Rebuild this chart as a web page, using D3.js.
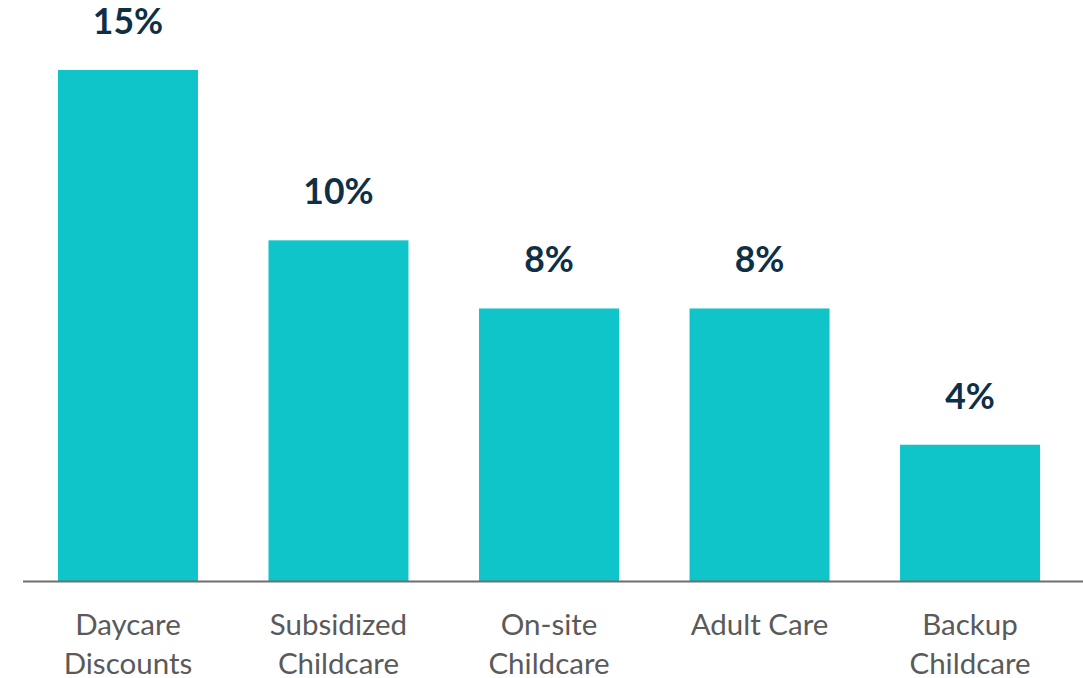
<!DOCTYPE html>
<html>
<head>
<meta charset="utf-8">
<script src="https://cdn.jsdelivr.net/npm/d3@7"></script>
<style>
  html, body { margin: 0; padding: 0; background: #ffffff; }
  svg { display: block; }
</style>
</head>
<body>
<svg id="chart" width="1083" height="678"></svg>
<script>
// Benefit categories (each split over two lines) and their shares in percent
const categories = [
  ["Daycare", "Discounts"],
  ["Subsidized", "Childcare"],
  ["On-site", "Childcare"],
  ["Adult Care"],
  ["Backup", "Childcare"]
];
const values = [15, 10, 8, 8, 4];

const W = 1083, H = 678;
const svg = d3.select("#chart");

const keys = categories.map(c => c.join(" "));

const x = d3.scaleBand()
  .domain(keys)
  .range([23, 1075])
  .paddingInner(0.335)
  .paddingOuter(0.166);

const y = d3.scaleLinear()
  .domain([0, 15])
  .range([581, 70]);

const data = keys.map((k, i) => ({ key: k, lines: categories[i], value: values[i] }));

// Bars
svg.append("g")
  .selectAll("rect")
  .data(data)
  .join("rect")
  .attr("x", d => x(d.key))
  .attr("y", d => y(d.value))
  .attr("width", x.bandwidth())
  .attr("height", d => y(0) - y(d.value))
  .attr("fill", "#10c5c9");

// Baseline
svg.append("line")
  .attr("x1", 23).attr("x2", W)
  .attr("y1", y(0) + 0.5).attr("y2", y(0) + 0.5)
  .attr("stroke", "#6e6e6e")
  .attr("stroke-width", 2);

// Value labels above each bar
svg.append("g")
  .selectAll("text")
  .data(data)
  .join("text")
  .attr("x", d => x(d.key) + x.bandwidth() / 2)
  .attr("y", d => y(d.value) - 36)
  .attr("text-anchor", "middle")
  .attr("font-family", "Lato, 'Open Sans', sans-serif")
  .attr("font-weight", 700)
  .attr("font-size", 35.5)
  .attr("fill", "#0e3047")
  .text(d => d.value + "%");

// Category labels below the baseline
const cat = svg.append("g")
  .selectAll("text")
  .data(data)
  .join("text")
  .attr("text-anchor", "middle")
  .attr("font-family", "Lato, 'Open Sans', sans-serif")
  .attr("font-size", 29.5)
  .attr("fill", "#5a5a5a");

cat.selectAll("tspan")
  .data(d => d.lines.map((t, i) => ({ t, i, cx: x(d.key) + x.bandwidth() / 2 })))
  .join("tspan")
  .attr("x", d => d.cx)
  .attr("y", d => 634.5 + d.i * 39)
  .text(d => d.t);
</script>
</body>
</html>
